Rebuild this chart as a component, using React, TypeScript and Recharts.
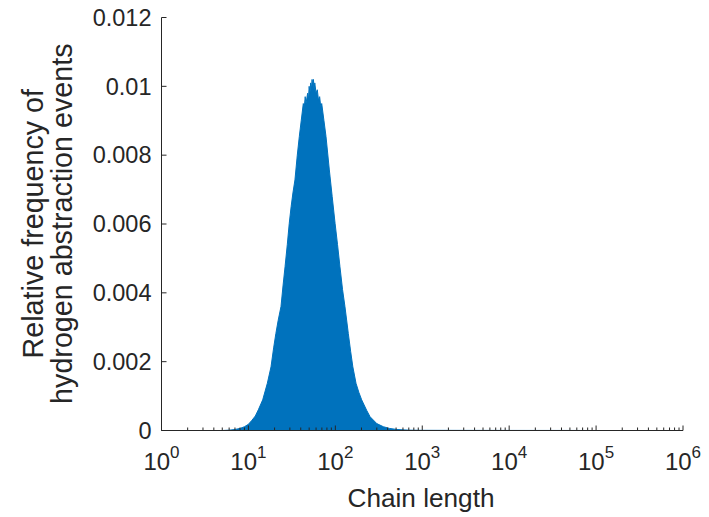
import React from 'react';
import { AreaChart, Area, XAxis, YAxis } from 'recharts';

// Chain length (x) and relative frequency (y)
const chainLength = [
  1, 3, 5, 6, 7, 8, 9, 10, 11, 12, 13, 14.6, 16.5, 18.2, 19.5, 20.7, 22, 23.7, 25, 26.4,
  28, 29.5, 31, 32.5, 34.3, 36.5, 38.5, 40.5, 42.8, 44, 45, 46, 48, 49, 50, 51, 52, 53,
  54, 55, 56, 57, 58, 60, 62, 64, 66, 68, 69.7, 74, 78.1, 85.3, 92, 99.3, 106, 113, 121,
  129, 141, 150, 159, 173, 187, 201, 230, 251, 300, 357, 420, 510, 700, 1000, 3000,
  10000, 50000, 100000,
];
const frequency = [
  0, 0, 0, 0.00001, 0.00003, 0.00006, 0.00011, 0.00018, 0.0003, 0.00042, 0.0006, 0.00089,
  0.00137, 0.00185, 0.0024, 0.00282, 0.0032, 0.0036, 0.0042, 0.00476, 0.0054, 0.00602,
  0.0065, 0.0069, 0.00728, 0.0080, 0.00854, 0.0090, 0.0095, 0.0094, 0.0097, 0.0095, 0.0098,
  0.0096, 0.0100, 0.0098, 0.0101, 0.0099, 0.0102, 0.0100, 0.0102, 0.0099, 0.0101, 0.0098,
  0.0099, 0.0096, 0.0097, 0.0094, 0.0095, 0.0090, 0.00854, 0.00757, 0.0068, 0.00602,
  0.0054, 0.00476, 0.0041, 0.0036, 0.00282, 0.0023, 0.00185, 0.00137, 0.0011, 0.00089,
  0.00058, 0.0004, 0.0002, 0.00011, 0.00006, 0.00003, 0.00001, 0.000005, 0.000003,
  0.000002, 0.000001, 0,
];

const decades = [1, 10, 100, 1000, 10000, 100000];
const majorTicks = [1, 10, 100, 1000, 10000, 100000, 1000000];
const xTicks = [...decades.flatMap((d) => [1, 2, 3, 4, 5, 6, 7, 8, 9].map((k) => k * d)), 1000000];
const yTicks = [0, 0.002, 0.004, 0.006, 0.008, 0.01, 0.012];
const yTickLabels = ['0', '0.002', '0.004', '0.006', '0.008', '0.01', '0.012'];

const data = chainLength.map((x, i) => ({ x, y: frequency[i] }));

const AXIS = '#262626';
const FONT = '"Liberation Sans", Arial, Helvetica, sans-serif';

const XTick = (props: any) => {
  const { x, y, payload } = props;
  const v = payload.value as number;
  const idx = majorTicks.findIndex((m) => Math.abs(m - v) < 1e-6 * m);
  const isMajor = idx >= 0;
  return (
    <g>
      <line x1={x} x2={x} y1={y} y2={y - (isMajor ? 5 : 3)} stroke={AXIS} strokeWidth={1} />
      {isMajor && (
        <text x={x} y={y + 39.5} textAnchor="middle" fill={AXIS} fontFamily={FONT} fontSize={24}>
          <tspan>10</tspan>
          <tspan dy={-11.7} fontSize={17}>{idx}</tspan>
        </text>
      )}
    </g>
  );
};

const YTick = (props: any) => {
  const { x, y, payload } = props;
  const i = yTicks.findIndex((t) => Math.abs(t - payload.value) < 1e-9);
  return (
    <g>
      <line x1={x} x2={x + 5} y1={y} y2={y} stroke={AXIS} strokeWidth={1} />
      <text x={x - 10} y={y} dy="0.35em" textAnchor="end" fill={AXIS} fontFamily={FONT} fontSize={23.5}>
        {yTickLabels[i]}
      </text>
    </g>
  );
};

const YLabel = () => (
  <g>
    <text
      x={42.7}
      y={223.7}
      transform="rotate(-90, 42.7, 223.7)"
      textAnchor="middle"
      fill={AXIS}
      fontFamily={FONT}
      fontSize={28.7}
    >
      Relative frequency of
    </text>
    <text
      x={71.7}
      y={223.7}
      transform="rotate(-90, 71.7, 223.7)"
      textAnchor="middle"
      fill={AXIS}
      fontFamily={FONT}
      fontSize={28.7}
    >
      hydrogen abstraction events
    </text>
  </g>
);

const XLabel = () => (
  <text x={421} y={506.7} textAnchor="middle" fill={AXIS} fontFamily={FONT} fontSize={26.2}>
    Chain length
  </text>
);

export default function App() {
  return (
    <div style={{ marginTop: -8, marginLeft: -8, width: 709, height: 517 }}>
      <AreaChart
        width={709}
        height={517}
        data={data}
        margin={{ top: 17.5, right: 26, bottom: 0, left: 0 }}
        style={{ background: '#fff' }}
      >
        <XAxis
          dataKey="x"
          type="number"
          scale="log"
          domain={[1, 1000000]}
          ticks={xTicks}
          interval={0}
          tick={<XTick />}
          tickLine={false}
          tickSize={0}
          tickMargin={0}
          axisLine={{ stroke: AXIS, strokeWidth: 1 }}
          height={86.5}
          allowDataOverflow
          label={<XLabel />}
        />
        <YAxis
          type="number"
          domain={[0, 0.012]}
          ticks={yTicks}
          interval={0}
          width={161.5}
          tick={<YTick />}
          tickLine={false}
          tickSize={0}
          tickMargin={0}
          axisLine={{ stroke: AXIS, strokeWidth: 1 }}
          allowDataOverflow
          label={<YLabel />}
        />
        <Area
          type="linear"
          dataKey="y"
          stroke="#0072BD"
          strokeWidth={1}
          fill="#0072BD"
          fillOpacity={1}
          isAnimationActive={false}
          dot={false}
          activeDot={false}
          baseValue={0}
        />
      </AreaChart>
    </div>
  );
}
